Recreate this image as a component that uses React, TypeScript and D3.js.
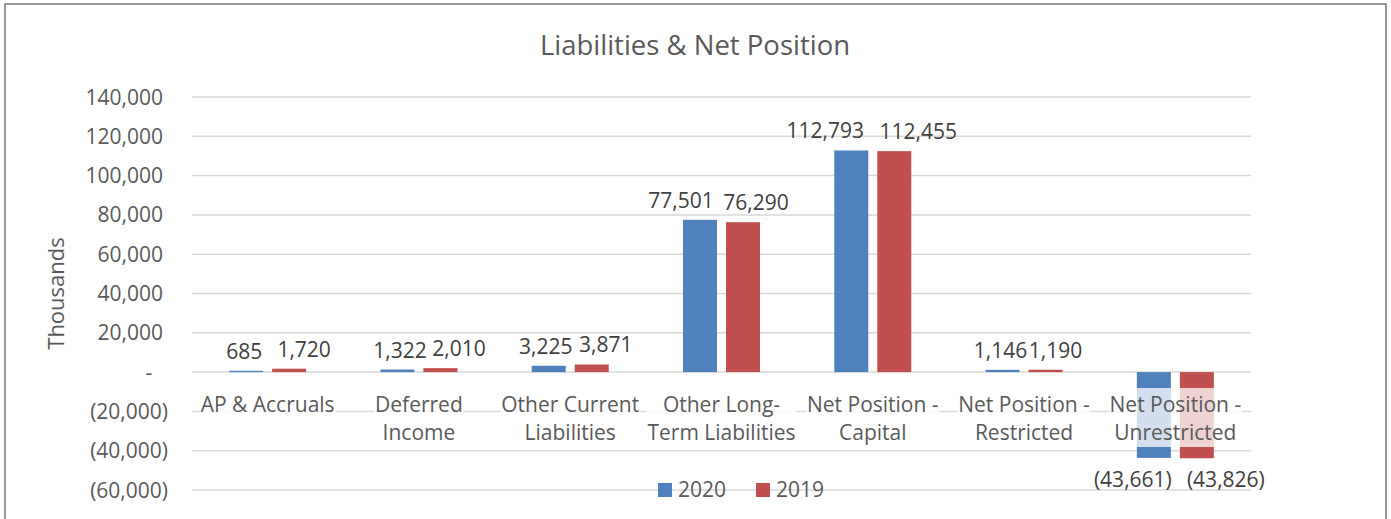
import React, { useEffect, useRef } from "react";
import * as d3 from "d3";

const categories: string[][] = [
  ["AP & Accruals"],
  ["Deferred", "Income"],
  ["Other Current", "Liabilities"],
  ["Other Long-", "Term Liabilities"],
  ["Net Position -", "Capital"],
  ["Net Position -", "Restricted"],
  ["Net Position -", "Unrestricted"],
];
const series = ["2020", "2019"];
const values2020 = [685, 1322, 3225, 77501, 112793, 1146, -43661];
const values2019 = [1720, 2010, 3871, 76290, 112455, 1190, -43826];
const yTicks = [-60000, -40000, -20000, 0, 20000, 40000, 60000, 80000, 100000, 120000, 140000];
// horizontal label nudges (layout only)
const nudge2020 = [-2, 2.5, -3, -19, -26, -2, -21];
const nudge2019 = [15, 18.5, 14, 13, 24, 10, 29];

const W = 1391;
const H = 519;
const FONT = "'Open Sans', 'Noto Sans', sans-serif";
const TXT = "#595959";
const COLORS: Record<string, string> = { "2020": "#4F81BD", "2019": "#C0504D" };

const fmt = (v: number) => {
  if (v === 0) return "-";
  const s = d3.format(",")(Math.abs(v));
  return v < 0 ? `(${s})` : s;
};

export default function App() {
  const ref = useRef<SVGSVGElement>(null);

  useEffect(() => {
    const svg = d3.select(ref.current!);
    svg.selectAll("*").remove();

    const left = 192, right = 1251, top = 97, bottom = 490;
    const y = d3.scaleLinear().domain([-60000, 140000]).range([bottom, top]);
    const keys = categories.map((c) => c.join(" "));
    const x0 = d3.scaleBand().domain(keys).range([left, right]).paddingInner(0.491).paddingOuter(0.2455);
    const x1 = d3.scaleBand().domain(series).range([0, x0.bandwidth()]).paddingInner(0.209);

    // border
    svg.append("rect").attr("x", 5).attr("y", 4).attr("width", 1381).attr("height", 530)
      .attr("fill", "white").attr("stroke", "#8a8a8a").attr("stroke-width", 1.75);

    // title
    svg.append("text").attr("x", 695).attr("y", 55).attr("text-anchor", "middle")
      .attr("font-family", FONT).attr("font-size", 27.5).attr("fill", TXT).text("Liabilities & Net Position");

    // gridlines
    svg.append("g").selectAll("line").data(yTicks).join("line")
      .attr("x1", left).attr("x2", right)
      .attr("y1", (d) => y(d)).attr("y2", (d) => y(d))
      .attr("stroke", "#D9D9D9").attr("stroke-width", 1.5);

    // y tick labels
    svg.append("g").selectAll("text").data(yTicks).join("text")
      .attr("x", (d) => (d === 0 ? 149 : d < 0 ? 168 : 163))
      .attr("y", (d) => y(d) + 7.5)
      .attr("text-anchor", (d) => (d === 0 ? "middle" : "end"))
      .attr("font-family", FONT).attr("font-size", 21).attr("fill", TXT)
      .text((d) => fmt(d));

    // y title
    svg.append("text").attr("transform", `translate(64, ${(top + bottom) / 2}) rotate(-90)`)
      .attr("text-anchor", "middle").attr("font-family", FONT).attr("font-size", 22).attr("fill", TXT)
      .text("Thousands");

    const rows = categories.map((c, i) => ({ key: keys[i], lines: c, v: [values2020[i], values2019[i]], n: [nudge2020[i], nudge2019[i]] }));

    // bars
    const bars = svg.append("g");
    rows.forEach((r) => {
      series.forEach((s, j) => {
        const v = r.v[j];
        bars.append("rect")
          .attr("x", x0(r.key)! + x1(s)!)
          .attr("width", x1.bandwidth())
          .attr("y", Math.min(y(v), y(0)))
          .attr("height", Math.abs(y(v) - y(0)))
          .attr("fill", COLORS[s]);
      });
    });

    // category labels with semi-transparent white boxes
    const catG = svg.append("g");
    rows.forEach((r) => {
      const cx = x0(r.key)! + x0.bandwidth() / 2;
      const g = catG.append("g");
      const rect = g.append("rect").attr("fill", "white").attr("fill-opacity", 0.75);
      const t = g.append("text").attr("text-anchor", "middle").attr("font-family", FONT)
        .attr("font-size", 21).attr("fill", TXT);
      r.lines.forEach((ln, k) => {
        t.append("tspan").attr("x", cx).attr("y", 412 + k * 28).text(ln);
      });
      const bb = (t.node() as SVGTextElement).getBBox();
      rect.attr("x", cx - bb.width / 2 - 1).attr("width", bb.width + 2)
        .attr("y", 388).attr("height", r.lines.length * 29.5);
    });

    // data labels
    const lab = svg.append("g");
    rows.forEach((r) => {
      series.forEach((s, j) => {
        const v = r.v[j];
        const bx = x0(r.key)! + x1(s)! + x1.bandwidth() / 2 + r.n[j];
        lab.append("text").attr("x", bx)
          .attr("y", v >= 0 ? y(v) - 12 : y(v) + 29)
          .attr("text-anchor", "middle").attr("font-family", FONT).attr("font-size", 21)
          .attr("fill", "#404040").text(fmt(v));
      });
    });

    // legend
    const lg = svg.append("g");
    const lx = [658, 756];
    series.forEach((s, j) => {
      lg.append("rect").attr("x", lx[j]).attr("y", 483).attr("width", 14).attr("height", 14).attr("fill", COLORS[s]);
      lg.append("text").attr("x", lx[j] + 20).attr("y", 497).attr("font-family", FONT)
        .attr("font-size", 21).attr("fill", TXT).text(s);
    });
  }, []);

  return (
    <div style={{ position: "absolute", left: 0, top: 0 }}>
      <svg ref={ref} width={W} height={H} style={{ display: "block" }} />
    </div>
  );
}
